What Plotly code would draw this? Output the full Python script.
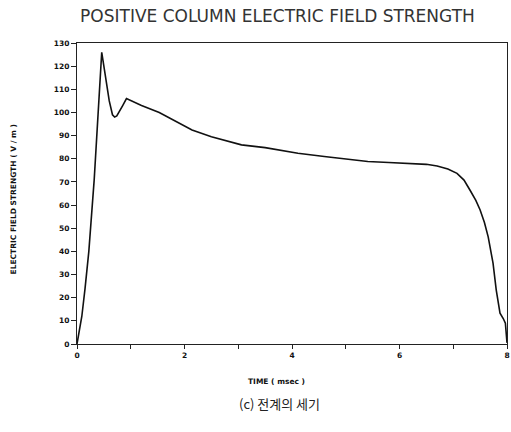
import plotly.graph_objects as go

time_ms = [0, 0.04, 0.09, 0.15, 0.22, 0.32, 0.40, 0.46, 0.52, 0.60, 0.66, 0.70, 0.74, 0.78, 0.85, 0.92,
           1.2, 1.53, 1.8, 2.14, 2.5, 3.06, 3.5, 4.11, 4.6, 5.0, 5.41, 5.8, 6.14, 6.5, 6.7,
           6.9, 7.07, 7.2, 7.31, 7.42, 7.5, 7.58, 7.65, 7.74, 7.80, 7.87, 7.93, 7.97, 8.0]
field = [0, 5, 12, 24, 40, 71, 105, 126, 117, 105, 99, 98, 98.5, 100, 103, 106,
         103, 100, 96.5, 92.4, 89.5, 86, 84.8, 82.4, 81, 80, 78.8, 78.4, 78.0, 77.6, 76.9,
         75.6, 73.7, 70.8, 66.5, 62, 57.9, 52.5, 46.3, 34.9, 23.3, 13.3, 11, 9, 0.5]

title_text = "POSITIVE COLUMN ELECTRIC FIELD STRENGTH"
x_title = "TIME ( msec )"
y_title = "ELECTRIC FIELD STRENGTH ( V / m )"
caption = "(c) 전계의 세기"

fig = go.Figure()
fig.add_trace(go.Scatter(x=time_ms, y=field, mode="lines",
                         line=dict(color="#111111", width=1.6),
                         showlegend=False, cliponaxis=False, hoverinfo="skip"))

tickfont = dict(family="DejaVu Sans", size=7.5, color="#111111", weight="bold")
axfont = dict(family="DejaVu Sans", size=7.5, color="#111111", weight="bold")

fig.update_layout(
    width=511, height=432,
    margin=dict(l=77, r=1, t=43, b=88),
    paper_bgcolor="white", plot_bgcolor="white",
    title=dict(text=title_text, x=0.543, xanchor="center", y=0.963, yanchor="middle",
               font=dict(family="DejaVu Sans", size=17, color="#333333")),
    xaxis=dict(range=[0, 8], dtick=2, tick0=0, showgrid=False, zeroline=False,
               showline=True, linecolor="#222222", linewidth=1.2, mirror=True,
               ticks="outside", ticklen=4, tickcolor="#222222", tickfont=tickfont,
               ticklabeloverflow="allow",
               minor=dict(dtick=1, ticks="outside", ticklen=4, tickcolor="#222222")),
    yaxis=dict(range=[0, 130], dtick=10, tick0=0, showgrid=False, zeroline=False,
               showline=True, linecolor="#222222", linewidth=1.2, mirror=True,
               ticks="outside", ticklen=5, tickcolor="#222222", tickfont=tickfont),
    annotations=[
        dict(text=x_title, xref="paper", yref="paper", x=(278 - 77) / 433, y=-37 / 301,
             xanchor="center", yanchor="middle", showarrow=False, font=axfont),
        dict(text=y_title, xref="paper", yref="paper", x=(13 - 77) / 433, y=(344 - 199) / 301,
             xanchor="center", yanchor="middle", showarrow=False, textangle=-90, font=axfont),
        dict(text=caption, xref="paper", yref="paper", x=(281 - 77) / 433, y=-59 / 301,
             xanchor="center", yanchor="middle", showarrow=False,
             font=dict(family="Noto Sans CJK KR", size=13, color="#222222")),
    ],
)

fig.write_html("out.html", config={"displayModeBar": False},
               post_script="document.body.style.margin='0';")
